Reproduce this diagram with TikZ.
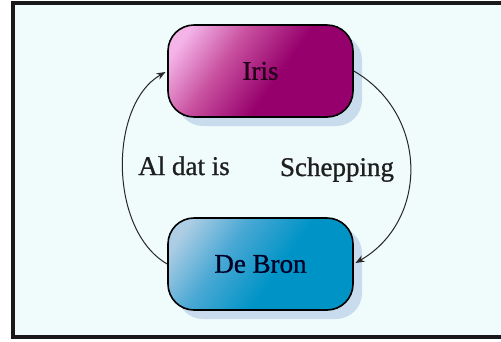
\documentclass[tikz,border=0pt]{standalone}
\usepackage{fontspec}
\setmainfont{Liberation Serif}
\newfontfamily\lblfont{Liberation Serif}[FakeBold=0.9]
\usetikzlibrary{arrows.meta,shadows}
\definecolor{bgcol}{HTML}{F0FBFC}
\definecolor{shadowcol}{HTML}{C9DCEE}
\definecolor{irislight}{HTML}{F4B4E8}
\definecolor{irismid}{HTML}{C8509F}
\definecolor{irisdark}{HTML}{96006C}
\definecolor{bronlight}{HTML}{ACCDE4}
\definecolor{bronmid}{HTML}{4AA8D4}
\definecolor{brondark}{HTML}{0094C6}
\definecolor{linecol}{HTML}{262626}
\pgfdeclarehorizontalshading{irisshade}{100bp}{color(0bp)=(irislight); color(22bp)=(irislight); color(38bp)=(irismid); color(56bp)=(irisdark); color(100bp)=(irisdark)}
\pgfdeclarehorizontalshading{bronshade}{100bp}{color(0bp)=(bronlight); color(22bp)=(bronlight); color(38bp)=(bronmid); color(56bp)=(brondark); color(100bp)=(brondark)}
\tikzset{
  box/.style={draw=black, line width=1.6pt, rounded corners=26pt,
    minimum width=185pt, minimum height=92pt, inner sep=0pt,
    font=\lblfont\fontsize{27}{32}\selectfont,
    drop shadow={shadow xshift=9pt, shadow yshift=-9pt, fill=shadowcol, opacity=1}},
  irisbox/.style={box, shading=irisshade, shading angle=-35, text=black!75!irisdark},
  bronbox/.style={box, shading=bronshade, shading angle=-35, text=black!85!blue},
  conn/.style={draw=linecol, line width=1pt, -{Stealth[length=9pt,width=7pt]}},
  lbl/.style={font=\lblfont\fontsize{27}{32}\selectfont, text=black!88, anchor=base, inner sep=0pt},
  frame/.style={line width=4pt, black!90}
}
\begin{document}
\begin{tikzpicture}[x=1pt,y=-1pt]
\useasboundingbox (0,0) rectangle (501,341);
\clip (0,0) rectangle (501,341);
\fill[bgcol] (13,3) rectangle (600,337);
\draw[frame] (600,3) -- (13,3) -- (13,337) -- (600,337);
\node[irisbox] (iris) at (260.5,71) {Iris};
\node[bronbox] (bron) at (260.5,264) {De Bron};
\draw[conn, shorten >=2pt] (bron.west) to[out=150, in=-150, looseness=0.9] (iris.west);
\draw[conn, shorten >=2pt] (iris.east) to[out=-30, in=30, looseness=1.15] (bron.east);
\node[lbl] (al) at (184,175) {Al dat is};
\node[lbl] (sch) at (337,176) {Schepping};
\end{tikzpicture}
\end{document}
